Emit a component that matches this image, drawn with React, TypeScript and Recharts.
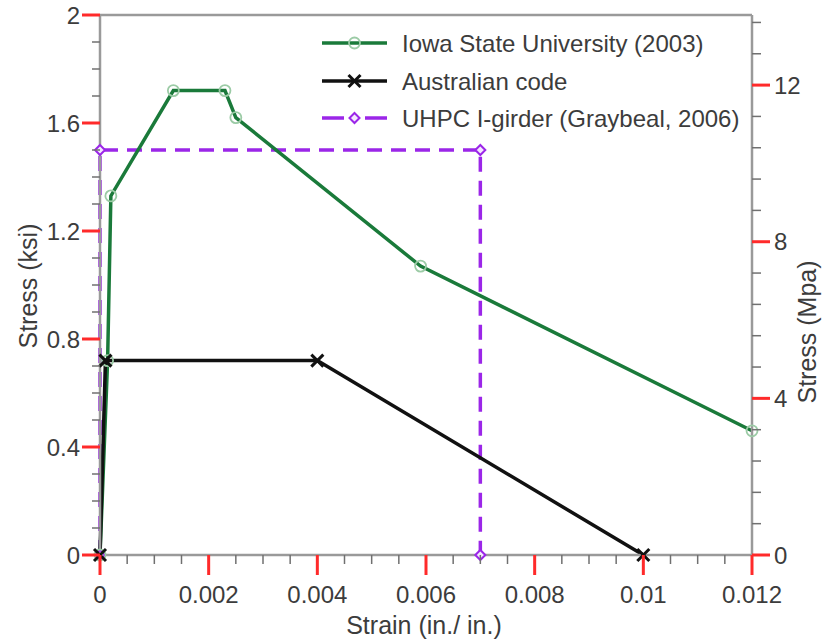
import React from 'react';
import { LineChart, Line, XAxis, YAxis, ReferenceLine } from 'recharts';

const iowaStrain = [0, 0.00014, 0.0002, 0.00135, 0.0023, 0.0025, 0.0059, 0.012];
const iowaStress = [0, 0.72, 1.33, 1.72, 1.72, 1.62, 1.07, 0.46];
const ausStrain = [0, 0.0001, 0.004, 0.01];
const ausStress = [0, 0.72, 0.72, 0];
const uhpcStrain = [0, 0, 0.007, 0.007];
const uhpcStress = [0, 1.5, 1.5, 0];

const xTicks = [0, 0.0005, 0.001, 0.0015, 0.002, 0.0025, 0.003, 0.0035, 0.004, 0.0045, 0.005, 0.0055, 0.006, 0.0065, 0.007, 0.0075, 0.008, 0.0085, 0.009, 0.0095, 0.01, 0.0105, 0.011, 0.0115, 0.012];
const ksiTicks = [0, 0.1, 0.2, 0.3, 0.4, 0.5, 0.6, 0.7, 0.8, 0.9, 1.0, 1.1, 1.2, 1.3, 1.4, 1.5, 1.6, 1.7, 1.8, 1.9, 2.0];
const mpaTicks = [0, 0.8, 1.6, 2.4, 3.2, 4, 4.8, 5.6, 6.4, 7.2, 8, 8.8, 9.6, 10.4, 11.2, 12, 12.8, 13.6];
const legendLabels = ['Iowa State University (2003)', 'Australian code', 'UHPC I-girder (Graybeal, 2006)'];

const iowaData = iowaStrain.map((x, i) => ({ x, y: iowaStress[i] }));
const ausData = ausStrain.map((x, i) => ({ x, y: ausStress[i] }));
const uhpcData = uhpcStrain.map((x, i) => ({ x, y: uhpcStress[i] }));

const FONT = '"Liberation Sans", Arial, sans-serif';
const TEXT = '#3c3c3c';
const AXIS = '#9a9a9a';
const RED = '#ff2a2a';
const MINOR = '#707070';
const GREEN = '#1a7a3a';
const PURPLE = '#9b26e8';
const TICK_FS = 24;

const isMult = (v: number, step: number) => Math.abs(v / step - Math.round(v / step)) < 1e-6;

const LeftTick = (props: any) => {
  const { x, y, payload } = props;
  const v = payload.value;
  const major = isMult(v, 0.4);
  return (
    <g>
      <line x1={x} y1={y} x2={x - (major ? 18 : 8)} y2={y} stroke={major ? RED : MINOR} strokeWidth={major ? 3 : 1.5} />
      {major && (
        <text x={x - 20} y={y} dy={8.5} textAnchor="end" fontSize={TICK_FS} fontFamily={FONT} fill={TEXT}>
          {String(Math.round(v * 10) / 10)}
        </text>
      )}
    </g>
  );
};

const RightTick = (props: any) => {
  const { x, y, payload } = props;
  const v = payload.value;
  const major = isMult(v, 4);
  return (
    <g>
      <line x1={x} y1={y} x2={x + (major ? 18 : 9)} y2={y} stroke={major ? RED : MINOR} strokeWidth={major ? 3 : 1.5} />
      {major && (
        <text x={x + 22} y={y} dy={8.5} textAnchor="start" fontSize={TICK_FS} fontFamily={FONT} fill={TEXT}>
          {String(Math.round(v))}
        </text>
      )}
    </g>
  );
};

const BottomTick = (props: any) => {
  const { x, y, payload } = props;
  const v = payload.value;
  const major = isMult(v, 0.002);
  return (
    <g>
      <line x1={x} y1={y} x2={x} y2={y + (major ? 20 : 9)} stroke={major ? RED : MINOR} strokeWidth={major ? 3 : 1.5} />
      {major && (
        <text x={x} y={y + 48} textAnchor="middle" fontSize={TICK_FS} fontFamily={FONT} fill={TEXT}>
          {String(Math.round(v * 1000) / 1000)}
        </text>
      )}
    </g>
  );
};

const circleDot = (p: any) => (
  <circle key={`c${p.index}`} cx={p.cx} cy={p.cy} r={5.5} fill="none" stroke="#9ccba6" strokeWidth={1.8} />
);

const xMark = (cx: number, cy: number, key: string) => (
  <g key={key}>
    <line x1={cx - 6} y1={cy - 6} x2={cx + 6} y2={cy + 6} stroke="#111" strokeWidth={3} />
    <line x1={cx - 6} y1={cy + 6} x2={cx + 6} y2={cy - 6} stroke="#111" strokeWidth={3} />
  </g>
);
const xDot = (p: any) => xMark(p.cx, p.cy, `x${p.index}`);

const diamond = (cx: number, cy: number, key: string) => (
  <polygon key={key} points={`${cx},${cy - 5} ${cx + 5},${cy} ${cx},${cy + 5} ${cx - 5},${cy}`} fill="#f4e8ff" stroke={PURPLE} strokeWidth={2} />
);
const diamondDot = (p: any) => diamond(p.cx, p.cy, `d${p.index}`);

const Legend = () => {
  const x0 = 322;
  const x1 = 387;
  const rows = [43, 81, 118];
  const mid = (x0 + x1) / 2;
  return (
    <g>
      <line x1={x0} y1={rows[0]} x2={x1} y2={rows[0]} stroke={GREEN} strokeWidth={3.5} />
      <circle cx={mid} cy={rows[0]} r={5.5} fill="none" stroke="#9ccba6" strokeWidth={1.8} />
      <line x1={x0} y1={rows[1]} x2={x1} y2={rows[1]} stroke="#111" strokeWidth={3.5} />
      {xMark(mid, rows[1], 'lx')}
      <line x1={x0} y1={rows[2]} x2={x0 + 22} y2={rows[2]} stroke={PURPLE} strokeWidth={3.5} />
      <line x1={x1 - 22} y1={rows[2]} x2={x1} y2={rows[2]} stroke={PURPLE} strokeWidth={3.5} />
      {diamond(mid, rows[2], 'ld')}
      {legendLabels.map((t, i) => (
        <text key={t} x={402} y={rows[i]} dy={8.5} fontSize={24} fontFamily={FONT} fill={TEXT}>
          {t}
        </text>
      ))}
    </g>
  );
};

export default function App() {
  return (
    <div style={{ position: 'absolute', left: 0, top: 0, width: 825, height: 642, background: '#fff' }}>
      <LineChart width={825} height={642} margin={{ top: 15, right: 13, bottom: 27, left: 40 }}>
        <XAxis
          type="number"
          dataKey="x"
          domain={[0, 0.012]}
          ticks={xTicks}
          interval={0}
          tick={<BottomTick />}
          tickLine={false}
          tickSize={0}
          tickMargin={0}
          height={60}
          axisLine={{ stroke: AXIS, strokeWidth: 2.5 }}
        />
        <YAxis
          yAxisId="l"
          type="number"
          domain={[0, 2]}
          ticks={ksiTicks}
          interval={0}
          tick={<LeftTick />}
          tickLine={false}
          tickSize={0}
          tickMargin={0}
          width={60}
          axisLine={{ stroke: AXIS, strokeWidth: 2.5 }}
        />
        <YAxis
          yAxisId="r"
          orientation="right"
          type="number"
          domain={[0, 13.79]}
          ticks={mpaTicks}
          interval={0}
          allowDataOverflow
          tick={<RightTick />}
          tickLine={false}
          tickSize={0}
          tickMargin={0}
          width={60}
          axisLine={{ stroke: AXIS, strokeWidth: 2.5 }}
        />
        <ReferenceLine yAxisId="l" y={2} stroke={AXIS} strokeWidth={2.5} ifOverflow="visible" />
        <Line
          yAxisId="l"
          data={uhpcData}
          dataKey="y"
          type="linear"
          stroke={PURPLE}
          strokeWidth={3.5}
          strokeDasharray="15 9"
          dot={diamondDot}
          activeDot={false}
          isAnimationActive={false}
        />
        <Line
          yAxisId="l"
          data={iowaData}
          dataKey="y"
          type="linear"
          stroke={GREEN}
          strokeWidth={3.5}
          dot={circleDot}
          activeDot={false}
          isAnimationActive={false}
        />
        <Line
          yAxisId="l"
          data={ausData}
          dataKey="y"
          type="linear"
          stroke="#111"
          strokeWidth={3.5}
          dot={xDot}
          activeDot={false}
          isAnimationActive={false}
        />
        <Legend />
        <text x={424} y={634} textAnchor="middle" fontSize={25} fontFamily={FONT} fill={TEXT}>
          Strain (in./ in.)
        </text>
        <text x={28} y={286} dy={9} textAnchor="middle" fontSize={25} fontFamily={FONT} fill={TEXT} transform="rotate(-90 28 286)">
          Stress (ksi)
        </text>
        <text x={807} y={332} dy={9} textAnchor="middle" fontSize={25} fontFamily={FONT} fill={TEXT} transform="rotate(-90 807 332)">
          Stress (Mpa)
        </text>
      </LineChart>
    </div>
  );
}
